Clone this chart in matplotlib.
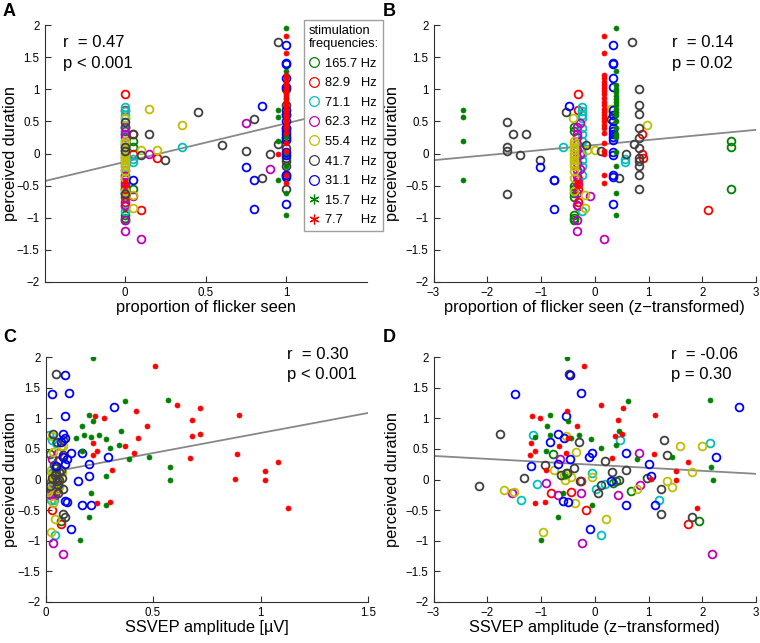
import numpy as np
import matplotlib
matplotlib.use("Agg")
from matplotlib import pyplot as plt
from matplotlib.lines import Line2D

plt.rcParams['font.family'] = ['Liberation Sans', 'DejaVu Sans']

# ---- data: perceived duration per subject, per stimulation frequency ----
# A/B: proportion of flicker seen (raw / z-transformed)
# C/D: SSVEP amplitude (raw / z-transformed)

freq_labels = ['165.7 Hz', '82.9   Hz', '71.1   Hz', '62.3   Hz', '55.4   Hz',
               '41.7   Hz', '31.1   Hz', '15.7   Hz', '7.7     Hz']
freq_colors = ['#008000', '#ff0000', '#00bfbf', '#bf00bf', '#bfbf00',
               '#404040', '#0000ff', '#008000', '#ff0000']
freq_filled = [False, False, False, False, False, False, False, True, True]

# 165.7 Hz
f165_dur_ab = [0.42, 0.35, -0.5, -0.55, -0.62, -0.67, -0.95, -1.0, -1.03, 0.19, 0.1, -0.56]
f165_seen = [0, 0, 0, 0, 0, 0, 0, 0, 0, 0.05, 0.05, 0.05]
f165_seen_z = [-0.38, -0.38, -0.38, -0.38, -0.38, -0.38, -0.38, -0.38, -0.38, 2.53, 2.53, 2.53]
f165_dur_cd = [0.42, 0.11, -0.18, -0.68, -0.02, -0.05]
f165_amp = [0.02, 0.03, 0.05, 0.07, 0.045, 0.04]
f165_amp_z = [-0.77, -0.53, 0.68, 1.94, 0.4, 0.34]

# 82.9 Hz
f83_dur_ab = [0.92, 0.68, -0.4, -0.48, -0.55, -0.75, -0.82, -0.88, 0.0, 0.3, -0.07]
f83_seen = [0, 0, 0, 0, 0, 0, 0, 0.1, 0.05, 0.05, 0.2]
f83_seen_z = [-0.32, -0.32, -0.32, -0.32, -0.32, -0.32, -0.32, 2.11, 0.88, 0.88, 0.9]
f83_dur_cd = [-0.22, -0.2, -0.5, -0.03, -0.73]
f83_amp = [0.02, 0.035, 0.03, 0.04, 0.07]
f83_amp_z = [-0.81, -0.44, -0.16, -0.26, 1.74]

# 71.1 Hz
f71_dur_ab = [0.72, 0.66, 0.6, 0.55, 0.4, 0.3, 0.2, 0.1, 0.0, -0.1, -0.2, -0.33, -0.89, -0.08, -0.13, 0.1]
f71_seen = [0, 0, 0, 0, 0, 0, 0, 0, 0, 0, 0, 0, 0, 0.05, 0.05, 0.35]
f71_seen_z = [-0.23] * 13 + [0.57, 0.57, -0.6]
f71_dur_cd = [0.72, 0.64, 0.59, -0.08, -0.34, 0.10, -0.08, -0.34, -0.91, -0.15]
f71_amp = [0.015, 0.03, 0.05, 0.015, 0.025, 0.03, 0.035, 0.04, 0.043, 0.03]
f71_amp_z = [-1.14, 0.47, 2.15, -1.07, -1.37, -0.05, 0.19, 1.19, 0.11, 0.02]

# 62.3 Hz
f62_dur_ab = [0.42, 0.3, 0.25, 0.15, 0.05, -0.05, -0.15, -0.25, -0.35, -0.45, -0.62, -0.8,
              -1.03, -1.2, -1.33, -0.66, 0.0, 0.47, -0.24]
f62_seen = [0] * 14 + [0.1, 0.05, 0.15, 0.75, 0.9]
f62_seen_z = [-0.33] * 14 + [0.17, -0.08, -0.28, -0.27, -0.27]
f62_dur_cd = [-0.22, -0.05, -0.26, -0.22, 0.44, -0.09, -0.25, -1.03, -1.22, 0.33]
f62_amp = [0.01, 0.02, 0.025, 0.035, 0.06, 0.06, 0.045, 0.035, 0.08, 0.03]
f62_amp_z = [-1.54, -0.91, -0.68, -0.25, 0.82, 0.85, 0.44, -0.23, 2.18, -0.65]

# 55.4 Hz
f55_dur_ab = [0.55, 0.19, 0.15, 0.1, 0.05, 0.0, -0.05, -0.1, -0.15, -0.2, -0.28, -0.38, -0.59,
              0.45, 0.7, 0.05, 0.05, -0.65, -0.85]
f55_seen = [0] * 13 + [0.35, 0.15, 0.1, 0.2, 0.05, 0.05]
f55_seen_z = [-0.4] + [-0.39] * 12 + [0.98, 0.3, 0.0, -0.15, -0.19, -0.19]
f55_dur_cd = [-0.17, -0.21, -0.86, 0.71, 0.45, 0.15, 0.07, 0.0, 0.04, -0.38, 0.04, -0.65,
              -0.16, 0.55, 0.55, -0.02, -0.12, 0.12]
f55_amp = [0.005, 0.01, 0.025, 0.03, 0.035, 0.025, 0.03, 0.03, 0.035, 0.035, 0.045, 0.043,
           0.055, 0.07, 0.08, 0.065, 0.065, 0.075]
f55_amp_z = [-1.69, -1.5, -0.96, -0.54, -0.34, -0.75, -0.57, -0.55, -0.44, -0.37, -0.05, 0.21,
             0.78, 1.58, 1.99, 1.35, 1.44, 1.81]

# 41.7 Hz
f42_dur_ab = [0.49, 0.1, 0.04, -0.63, 0.31, 0.31, -0.03, -0.1, 0.65, 0.13, 0.04, 0.54, -0.38,
              0.0, 1.73, 0.15, 1.0, 0.75, 0.62, 0.4, 0.24, 0.08, -0.07, -0.12, -0.2, -0.34, -0.56]
f42_seen = [0, 0, 0, 0, 0.05, 0.15, 0.1, 0.25, 0.45, 0.6, 0.75, 0.8, 0.85, 0.9, 0.95, 0.95] + [1] * 11
f42_seen_z = [-1.64, -1.64, -1.64, -1.64, -1.52, -1.28, -1.4, -1.02, -0.54, -0.16, 0.12, 0.3,
              0.46, 0.58, 0.7, 0.73] + [0.83] * 11
f42_dur_cd = [1.73, 0.75, -0.10, 0.03, 0.24, 0.19, 0.08, 0.10, -0.03, 0.30, 0.12, -0.09, -0.22,
              0.00, 0.15, 0.03, 0.65, 0.40, -0.15, -0.57, -0.62, 0.62]
f42_amp = [0.05, 0.035, 0.02, 0.03, 0.04, 0.05, 0.045, 0.05, 0.055, 0.06, 0.065, 0.06, 0.06,
           0.065, 0.07, 0.075, 0.08, 0.08, 0.08, 0.08, 0.09, 0.055]
f42_amp_z = [-0.48, -1.77, -2.15, -1.32, -0.92, -0.39, -0.62, -0.52, -0.27, 0.19, 0.33, 0.12,
             0.06, 0.46, 0.58, 0.98, 1.28, 1.34, 1.24, 1.24, 1.81, -0.29]

# 31.1 Hz
f31_dur_ab = [1.69, 1.41, 1.4, 1.17, 1.04, 0.68, 0.6, 0.5, 0.4, 0.35, 0.3, 0.25, 0.21, 0.03,
              -0.02, -0.33, -0.36, -0.78, 0.74, -0.21, -0.41, -0.86, -0.42]
f31_seen = [1] * 18 + [0.85, 0.75, 0.8, 0.8, 0.05]
f31_seen_z = [0.34] * 18 + [-0.47, -1.02, -0.76, -0.76, -0.76]
f31_dur_cd = [1.70, 1.40, 1.41, 1.04, 1.18, 0.74, 0.61, 0.67, 0.44, 0.44, 0.22, 0.26, 0.33,
              0.37, 0.36, 0.26, 0.06, -0.02, -0.35, -0.36, -0.42, -0.42, -0.81]
f31_amp = [0.09, 0.03, 0.11, 0.09, 0.32, 0.08, 0.07, 0.09, 0.12, 0.17, 0.05, 0.09, 0.10, 0.08,
           0.29, 0.20, 0.20, 0.15, 0.09, 0.10, 0.17, 0.21, 0.12]
f31_amp_z = [-0.46, -1.49, -0.25, -0.54, 2.69, -0.68, -0.84, -0.57, -0.05, 0.58, -1.18, -0.68,
             -0.46, -0.10, 2.26, 1.01, 1.04, 0.30, -0.59, -0.50, 0.59, 1.13, -0.08]

# 15.7 Hz
f16_dur_ab = [1.96, 1.29, 1.07, 1.0, 0.95, 0.9, 0.85, 0.8, 0.75, 0.7, 0.65, 0.6, 0.5, 0.4, 0.3,
              0.26, 0.03, -0.2, -0.61, -0.96, 0.68, 0.57, 0.19, -0.42]
f16_seen = [1] * 20 + [0.95] * 4
f16_seen_z = [0.39] * 20 + [-2.45] * 4
f16_dur_cd = [1.98, 1.29, 1.28, 1.05, 0.95, 0.87, 0.79, 0.73, 0.72, 0.69, 0.68, 0.66, 0.57,
              0.52, 0.47, 0.37, 0.33, 0.20, 0.05, 0.00, -0.22, -0.42, -0.62, -0.98]
f16_amp = [0.22, 0.57, 0.37, 0.20, 0.22, 0.17, 0.35, 0.25, 0.18, 0.21, 0.14, 0.28, 0.34, 0.30,
           0.17, 0.48, 0.39, 0.58, 0.28, 0.58, 0.21, 0.28, 0.20, 0.16]
f16_amp_z = [-0.52, 2.15, 0.62, -0.83, -0.50, -0.88, 0.45, -0.83, -0.30, -1.12, -0.45, -0.07,
             0.40, 0.11, -0.91, 1.43, 0.78, 2.16, -0.55, 2.20, -0.59, -0.05, -0.68, -1.00]

# 7.7 Hz
f8_dur_ab = [1.83, 1.57, 1.22, 1.17, 1.12, 1.07, 1.02, 0.97, 0.92, 0.87, 0.8, 0.75, 0.7, 0.65,
             0.6, 0.55, 0.5, 0.45, 0.4, 0.32, 0.16, 0.04, -0.34, -0.46, 0.0, -0.45, -0.5]
f8_seen = [1] * 24 + [0.95, 0, 0]
f8_seen_z = [0.17] * 25 + [-0.33, -0.33]
f8_dur_cd = [1.85, 1.22, 1.17, 1.12, 1.03, 1.01, 1.05, 0.97, 0.88, 0.68, 0.71, 0.74, 0.59, 0.55,
             0.46, 0.44, 0.40, 0.41, 0.35, 0.28, 0.14, 0.15, 0.01, -0.01, -0.38, -0.37, -0.47]
f8_amp = [0.51, 0.61, 0.72, 0.42, 0.23, 0.27, 0.90, 0.68, 0.47, 0.43, 0.68, 0.72, 0.22, 0.37,
          0.24, 0.41, 0.22, 0.89, 0.67, 1.08, 1.02, 0.31, 0.88, 1.02, 0.24, 0.30, 1.13]
f8_amp_z = [-0.20, 0.12, 0.52, -0.51, -1.17, -1.02, 1.13, 0.43, -0.33, -0.50, 0.37, 0.51, -1.19,
            -0.67, -1.12, -0.53, -1.20, 1.11, 0.33, 1.74, 1.51, -0.91, 1.04, 1.51, -1.12, -0.92, 1.90]

groups_ab = [(f165_dur_ab, f165_seen, f165_seen_z), (f83_dur_ab, f83_seen, f83_seen_z),
             (f71_dur_ab, f71_seen, f71_seen_z), (f62_dur_ab, f62_seen, f62_seen_z),
             (f55_dur_ab, f55_seen, f55_seen_z), (f42_dur_ab, f42_seen, f42_seen_z),
             (f31_dur_ab, f31_seen, f31_seen_z), (f16_dur_ab, f16_seen, f16_seen_z),
             (f8_dur_ab, f8_seen, f8_seen_z)]
groups_cd = [(f165_dur_cd, f165_amp, f165_amp_z), (f83_dur_cd, f83_amp, f83_amp_z),
             (f71_dur_cd, f71_amp, f71_amp_z), (f62_dur_cd, f62_amp, f62_amp_z),
             (f55_dur_cd, f55_amp, f55_amp_z), (f42_dur_cd, f42_amp, f42_amp_z),
             (f31_dur_cd, f31_amp, f31_amp_z), (f16_dur_cd, f16_amp, f16_amp_z),
             (f8_dur_cd, f8_amp, f8_amp_z)]

# regression lines (intercept, slope) and stats
fit_a = (-0.13, 0.60)
fit_b = (0.132, 0.0787)
fit_c = (0.104, 0.655)
fit_d = (0.239, -0.0487)
stats = [('r  = 0.47', 'p < 0.001'), ('r  = 0.14', 'p = 0.02'),
         ('r  = 0.30', 'p < 0.001'), ('r  = -0.06', 'p = 0.30')]

W, H = 760, 643
fig = plt.figure(figsize=(W / 100, H / 100), dpi=100)


def px_axes(x0, x1, ytop, ybot):
    return fig.add_axes([x0 / W, 1 - ybot / H, (x1 - x0) / W, (ybot - ytop) / H])


axA = px_axes(44.5, 367, 25, 282)
axB = px_axes(433.5, 756, 25, 282)
axC = px_axes(45.5, 368, 357, 602)
axD = px_axes(433.5, 756, 357, 602)

yticks = [-2, -1.5, -1, -0.5, 0, 0.5, 1, 1.5, 2]
ytick_labels = ['\u22122', '\u22121.5', '\u22121', '\u22120.5', '0', '0.5', '1', '1.5', '2']


def style(ax, xlim, xticks, xticklabels, xlabel, ylabel_px):
    ax.set_xlim(xlim)
    ax.set_ylim(-2, 2)
    ax.set_xticks(xticks)
    ax.set_xticklabels(xticklabels)
    ax.set_yticks(yticks)
    ax.set_yticklabels(ytick_labels)
    for s in ['top', 'right']:
        ax.spines[s].set_visible(False)
    for s in ['left', 'bottom']:
        ax.spines[s].set_color('#303030')
        ax.spines[s].set_linewidth(0.8)
    ax.tick_params(direction='in', length=4, width=0.8, color='#303030',
                   labelsize=8.3, pad=3.5)
    ax.set_xlabel(xlabel, fontsize=11.8, labelpad=1)
    ax.set_ylabel('perceived duration', fontsize=11.8)
    pos = ax.get_position()
    # right edge of the rotated y label, in figure pixels
    ax.yaxis.set_label_coords((ylabel_px - pos.x0 * W) / (pos.width * W), 0.5)


def draw(ax, groups, col, fit, xr):
    xs = np.array(xr)
    ax.plot(xs, fit[0] + fit[1] * xs, color='#888888', lw=1.3, zorder=1)
    for (vals, color, filled) in zip(groups, freq_colors, freq_filled):
        y = vals[0]
        x = vals[col]
        if filled:
            ax.plot(x, y, 'o', ms=3.6, mfc=color, mec=color, mew=0.5, ls='none', zorder=2)
        else:
            ax.plot(x, y, 'o', ms=5.6, mfc='none', mec=color, mew=1.3, ls='none', zorder=2)


draw(axA, groups_ab, 1, fit_a, [-0.5, 1.5])
draw(axB, groups_ab, 2, fit_b, [-3, 3])
draw(axC, groups_cd, 1, fit_c, [0, 1.5])
draw(axD, groups_cd, 2, fit_d, [-3, 3])

zticks = [-3, -2, -1, 0, 1, 2, 3]
zlabels = ['\u22123', '\u22122', '\u22121', '0', '1', '2', '3']
style(axA, (-0.5, 1.5), [0, 0.5, 1], ['0', '0.5', '1'], 'proportion of flicker seen', 18.5)
style(axB, (-3, 3), zticks, zlabels, 'proportion of flicker seen (z\u2212transformed)', 399.5)
style(axC, (0, 1.5), [0, 0.5, 1, 1.5], ['0', '0.5', '1', '1.5'], 'SSVEP amplitude [\u00b5V]', 18.5)
style(axD, (-3, 3), zticks, zlabels, 'SSVEP amplitude (z\u2212transformed)', 399.5)

# stats text
for ax, (r_txt, p_txt), xf, y1, y2 in [(axA, stats[0], 0.057, 0.93, 0.852),
                                      (axB, stats[1], 0.739, 0.93, 0.852),
                                      (axC, stats[2], 0.749, 1.01, 0.93),
                                      (axD, stats[3], 0.735, 1.01, 0.93)]:
    ax.text(xf, y1, r_txt, transform=ax.transAxes, fontsize=12, va='center', ha='left')
    ax.text(xf, y2, p_txt, transform=ax.transAxes, fontsize=12, va='center', ha='left')

# panel letters
for lbl, x, y in [('A', 3, 12), ('B', 383, 12), ('C', 3, 338), ('D', 383, 338)]:
    fig.text(x / W, 1 - y / H, lbl, fontsize=13, fontweight='bold', va='center', ha='left')

# legend
handles = []
for lab, color, filled in zip(freq_labels, freq_colors, freq_filled):
    if filled:
        handles.append(Line2D([], [], ls='none', marker=(6, 2, 0), ms=7, color=color, mew=0.9))
    else:
        handles.append(Line2D([], [], ls='none', marker='o', ms=7, mfc='none', mec=color, mew=0.9))
leg = fig.legend(handles, freq_labels, title='stimulation\nfrequencies:', loc='upper left',
                 bbox_to_anchor=(304 / W, 1 - 20 / H), bbox_transform=fig.transFigure,
                 fontsize=9.3, title_fontsize=9.3, frameon=True, fancybox=False,
                 edgecolor='#a0a0a0', framealpha=1, handlelength=0.9, handletextpad=0.35,
                 labelspacing=0.58, borderpad=0.35, borderaxespad=0, alignment='left')
leg.get_frame().set_linewidth(1.0)

fig.savefig('out.png', dpi=100)
